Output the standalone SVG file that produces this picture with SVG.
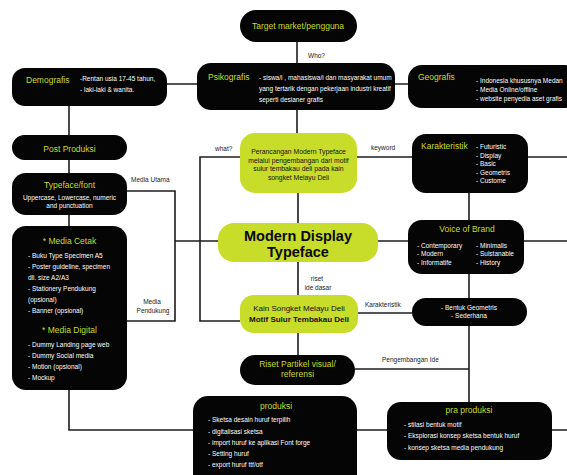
<svg xmlns="http://www.w3.org/2000/svg" width="567" height="475" viewBox="0 0 567 475">
<style>
text{font-family:"Liberation Sans",Arial,sans-serif;}
.bk{fill:#050505;}
.lm{fill:#c8dc2a;}
.t{fill:#c8dc2a;font-size:8.5px;}
.w{fill:#ffffff;font-size:6.5px;}
.lb{fill:#222;font-size:6.5px;}
.c{text-anchor:middle;}
.ln{fill:none;stroke:#1c1c1c;stroke-width:1.6;}
</style>
<rect width="567" height="475" fill="#ffffff"/>
<g id="connectors" class="ln">
<path d="M297 42V63"/>
<path d="M167 84H197M395 84H408"/>
<path d="M297 110V133"/>
<path d="M69 106V135M69 160V173M69 215V226"/>
<path d="M127 191H175V321H127"/>
<path d="M175 241H218"/>
<path d="M240 157H200V321H240"/>
<path d="M357 157H412M528 157H567"/>
<path d="M469 193V220M524 241H567M378 241H408"/>
<path d="M298 193V223M298 262V295"/>
<path d="M358 313H412"/>
<path d="M469 274V298M469 326V402"/>
<path d="M298 333V355"/>
<path d="M355 369H469"/>
<path d="M69 390V430H193"/>
<path d="M357 430H387M552 430H567"/>
</g>
<g id="target">
<rect class="bk" x="240" y="10" width="117" height="32" rx="16"/>
<text class="t c" x="298" y="29" font-size="9">Target market/pengguna</text>
</g>
<text class="lb" x="308" y="57.5">Who?</text>
<g id="demografis">
<rect class="bk" x="12" y="68" width="155" height="38" rx="13"/>
<text class="t" x="26" y="83">Demografis</text>
<text class="w" x="80" y="81">-Rentan usia 17-45 tahun,</text>
<text class="w" x="80" y="91.5">- laki-laki &amp; wanita.</text>
</g>
<g id="psikografis">
<rect class="bk" x="197" y="63" width="198" height="47" rx="14"/>
<text class="t" x="208" y="80">Psikografis</text>
<text class="w" x="259" y="80">- siswa/i , mahasiswa/i dan masyarakat umum</text>
<text class="w" x="259" y="91">yang tertarik dengan pekerjaan industri kreatif</text>
<text class="w" x="259" y="102">seperti desianer grafis</text>
</g>
<g id="geografis">
<rect class="bk" x="408" y="65" width="170" height="43" rx="14"/>
<text class="t" x="418" y="80">Geografis</text>
<text class="w" x="476" y="83">- Indonesia khususnya Medan</text>
<text class="w" x="476" y="92">- Media Online/offline</text>
<text class="w" x="476" y="101">- website penyedia aset grafis</text>
</g>
<g id="post-produksi">
<rect class="bk" x="12" y="135" width="115" height="25" rx="12.5"/>
<text class="t c" x="69.5" y="152" font-size="8">Post Produksi</text>
</g>
<g id="typeface">
<rect class="bk" x="12" y="173" width="115" height="42" rx="14"/>
<text class="t c" x="69.5" y="188">Typeface/font</text>
<text class="w c" x="69.5" y="199.5" font-size="7">Uppercase, Lowercase, numeric</text>
<text class="w c" x="69.5" y="208" font-size="7">and punctuation</text>
</g>
<text class="lb" x="131" y="181.5" font-size="6.8">Media Utama</text>
<g id="media">
<rect class="bk" x="12" y="226" width="115" height="164" rx="14"/>
<text class="t c" x="69.5" y="244">* Media Cetak</text>
<text class="w" x="28" y="257.5">- Buku Type Specimen A5</text>
<text class="w" x="28" y="268.5">- Poster guideline, specimen</text>
<text class="w" x="28" y="279.5">dll. size A2/A3</text>
<text class="w" x="28" y="290.5">- Stationery Pendukung</text>
<text class="w" x="28" y="301.5">(opsional)</text>
<text class="w" x="28" y="312.5">- Banner (opsional)</text>
<text class="t c" x="69.5" y="333" font-size="9">* Media Digital</text>
<text class="w" x="28" y="346.5">- Dummy Landing page web</text>
<text class="w" x="28" y="357.5">- Dummy Social media</text>
<text class="w" x="28" y="368.5">- Motion (opsional)</text>
<text class="w" x="28" y="379.5">- Mockup</text>
</g>
<text class="lb c" x="152" y="303.5">Media</text>
<text class="lb c" x="153" y="312.5">Pendukung</text>
<text class="lb" x="215" y="150.5">what?</text>
<g id="perancangan">
<rect class="lm" x="240" y="133" width="117" height="60" rx="15"/>
<text class="c" x="298.5" y="154" font-size="6.8" fill="#111">Perancangan Modern Typeface</text>
<text class="c" x="298.5" y="162.5" font-size="6.8" fill="#111">melalui pengembangan dari motif</text>
<text class="c" x="298.5" y="171" font-size="6.8" fill="#111">sulur tembakau deli pada kain</text>
<text class="c" x="298.5" y="179.5" font-size="6.8" fill="#111">songket Melayu Deli</text>
</g>
<text class="lb" x="371" y="149.5">keyword</text>
<g id="karakteristik">
<rect class="bk" x="412" y="134" width="116" height="59" rx="14"/>
<text class="t" x="421" y="149" font-size="7.8">Karakteristik</text>
<text class="w" x="476" y="149">- Futuristic</text>
<text class="w" x="476" y="157.5">- Display</text>
<text class="w" x="476" y="166">- Basic</text>
<text class="w" x="476" y="174.5">- Geometris</text>
<text class="w" x="476" y="183">- Custome</text>
</g>
<g id="modern-display">
<rect class="lm" x="218" y="223" width="160" height="39" rx="16"/>
<text class="c" x="298" y="241" font-size="14.5" font-weight="bold" fill="#0a0a0a">Modern Display</text>
<text class="c" x="298" y="257" font-size="14.5" font-weight="bold" fill="#0a0a0a">Typeface</text>
</g>
<g id="voice-of-brand">
<rect class="bk" x="408" y="220" width="116" height="54" rx="14"/>
<text class="t c" x="467" y="232" font-size="7.8">Voice of Brand</text>
<text class="w" x="417" y="247.5" font-size="6.8">- Contemporary</text>
<text class="w" x="417" y="256" font-size="6.8">- Modern</text>
<text class="w" x="417" y="264.5" font-size="6.8">- Informatife</text>
<text class="w" x="476" y="247.5" font-size="6.8">- Minimalis</text>
<text class="w" x="476" y="256" font-size="6.8">- Suistanable</text>
<text class="w" x="476" y="264.5" font-size="6.8">- History</text>
</g>
<text class="lb c" x="317" y="280.5">riset</text>
<text class="lb c" x="318" y="289.5">ide dasar</text>
<g id="kain-songket">
<rect class="lm" x="240" y="295" width="118" height="38" rx="14"/>
<text class="c" x="299" y="311" font-size="8" fill="#111">Kain Songket Melayu Deli</text>
<text class="c" x="299" y="322" font-size="8" font-weight="bold" fill="#111">Motif Sulur Tembakau Deli</text>
</g>
<text class="lb" x="365" y="306.5">Karakteristik</text>
<g id="bentuk">
<rect class="bk" x="412" y="298" width="115" height="28" rx="14"/>
<text class="w c" x="469" y="309.5">- Bentuk Geometris</text>
<text class="w c" x="469" y="318">- Sederhana</text>
</g>
<g id="riset">
<rect class="bk" x="240" y="355" width="115" height="30" rx="15"/>
<text class="t c" x="297.5" y="367" font-size="7.8">Riset Partikel visual/</text>
<text class="t c" x="297.5" y="376.5" font-size="7.8">referensi</text>
</g>
<text class="lb" x="382" y="361.5">Pengembangan Ide</text>
<g id="produksi">
<rect class="bk" x="193" y="396" width="164" height="100" rx="15"/>
<text class="t c" x="276" y="409" font-size="8">produksi</text>
<text class="w" x="208" y="422" font-size="6.2">- Sketsa desain huruf terpilih</text>
<text class="w" x="208" y="434" font-size="6.2">- digitalisasi sketsa</text>
<text class="w" x="208" y="445" font-size="6.2">- import huruf ke aplikasi Font forge</text>
<text class="w" x="208" y="455.5" font-size="6.2">- Setting huruf</text>
<text class="w" x="208" y="467" font-size="6.2">- export huruf ttf/otf</text>
</g>
<g id="pra-produksi">
<rect class="bk" x="387" y="402" width="165" height="58" rx="14"/>
<text class="t c" x="469" y="413" font-size="8">pra produksi</text>
<text class="w" x="404" y="427" font-size="6.3">- stilasi bentuk motif</text>
<text class="w" x="404" y="438" font-size="6.3">- Eksplorasi konsep sketsa bentuk huruf</text>
<text class="w" x="404" y="449.5" font-size="6.3">- konsep sketsa media pendukung</text>
</g>
</svg>
